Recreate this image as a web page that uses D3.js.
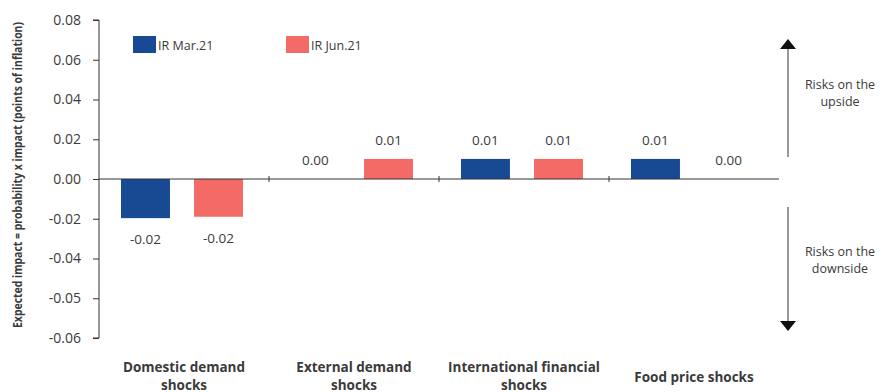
<!DOCTYPE html>
<html>
<head>
<meta charset="utf-8">
<script src="https://cdn.jsdelivr.net/npm/d3@7"></script>
<style>
  body { margin: 0; background: #fff; }
  svg text { font-family: "Open Sans", "Noto Sans", sans-serif; fill: #3a3a3a; }
</style>
</head>
<body>
<svg id="chart" width="887" height="392"></svg>
<script>
// data
const categories = ["Domestic demand shocks", "External demand shocks", "International financial shocks", "Food price shocks"];
const categoryLines = [["Domestic demand", "shocks"], ["External demand", "shocks"], ["International financial", "shocks"], ["Food price shocks"]];
const seriesNames = ["IR Mar.21", "IR Jun.21"];
const marValues = [-0.0197, 0.0, 0.0101, 0.0101];
const junValues = [-0.019, 0.0101, 0.0101, 0.0];
const valueLabels = [["-0.02", "0.00", "0.01", "0.01"], ["-0.02", "0.01", "0.01", "0.00"]];
const tickValues = [0.08, 0.06, 0.04, 0.02, 0, -0.02, -0.04, -0.06, -0.08];
const tickLabels = ["0.08", "0.06", "0.04", "0.02", "0.00", "-0.02", "-0.04", "-0.05", "-0.06"];
const colors = ["#174a93", "#f36a66"];

const svg = d3.select("#chart");
const plotLeft = 99, plotRight = 779, plotTop = 20, plotBottom = 338;

const y = d3.scaleLinear().domain([-0.08, 0.08]).range([plotBottom, plotTop]);
const x0 = d3.scaleBand().domain(categories).range([plotLeft, plotRight]).padding(0);
const x1 = d3.scaleBand().domain(seriesNames).range([22, 144]).paddingInner(0.33).paddingOuter(0);

// y axis
const yAxis = d3.axisLeft(y)
    .tickValues(tickValues)
    .tickSize(6)
    .tickPadding(12)
    .tickFormat((d, i) => tickLabels[i]);
const gy = svg.append("g")
    .attr("transform", "translate(" + plotLeft + ",0)")
    .call(yAxis);
gy.select(".domain").attr("stroke", "#333").attr("d", "M-6," + plotTop + "H0V" + plotBottom + "H-6");
gy.selectAll(".tick line").attr("stroke", "#333");
gy.selectAll(".tick text").style("font-size", "14px").attr("fill", "#3a3a3a")
    .style("font-family", "'Open Sans', sans-serif");

// y title (condensed in the original, so squeeze it)
svg.append("text")
    .attr("transform", "translate(22," + 175 + ") rotate(-90)")
    .attr("text-anchor", "middle")
    .attr("textLength", 306)
    .attr("lengthAdjust", "spacingAndGlyphs")
    .style("font-weight", "bold")
    .style("font-size", "12.5px")
    .attr("fill", "#222")
    .text("Expected impact = probability x impact (points of inflation)");

// bars
const data = categories.map((c, i) => ({ cat: c, vals: [marValues[i], junValues[i]] }));
const groups = svg.selectAll(".grp")
    .data(data)
    .enter().append("g")
    .attr("class", "grp")
    .attr("transform", d => "translate(" + x0(d.cat) + ",0)");

groups.selectAll("rect")
    .data(d => d.vals.map((v, s) => ({ s: s, v: v })))
    .enter().append("rect")
    .attr("x", d => x1(seriesNames[d.s]))
    .attr("width", x1.bandwidth())
    .attr("y", d => y(Math.max(0, d.v)))
    .attr("height", d => Math.abs(y(d.v) - y(0)))
    .attr("fill", d => colors[d.s]);

groups.each(function (d, ci) {
    d3.select(this).selectAll(".vl")
        .data(d.vals.map((v, s) => ({ s: s, v: v })))
        .enter().append("text")
        .attr("class", "vl")
        .attr("x", e => x1(seriesNames[e.s]) + x1.bandwidth() / 2)
        .attr("y", e => e.v < 0 ? y(e.v) + 26 : y(e.v) - 14)
        .attr("text-anchor", "middle")
        .style("font-size", "13.5px")
        .text(e => valueLabels[e.s][ci]);
});

// zero line with category ticks
svg.append("line")
    .attr("x1", plotLeft).attr("x2", plotRight)
    .attr("y1", y(0)).attr("y2", y(0))
    .attr("stroke", "#333");
svg.selectAll(".ctick")
    .data(categories.slice(1))
    .enter().append("line")
    .attr("x1", d => x0(d)).attr("x2", d => x0(d))
    .attr("y1", y(0) - 3).attr("y2", y(0) + 3)
    .attr("stroke", "#333");

// category labels
categoryLines.forEach((lines, i) => {
    const cx = x0(categories[i]) + x0.bandwidth() / 2;
    const t = svg.append("text")
        .attr("text-anchor", "middle")
        .style("font-size", "13.5px")
        .style("font-weight", "bold")
        .attr("fill", "#222");
    const y0 = lines.length === 1 ? 382 : 372;
    lines.forEach((ln, j) => {
        t.append("tspan").attr("x", cx).attr("y", y0 + j * 18).text(ln);
    });
});

// legend
const legend = svg.append("g");
[133, 286].forEach((lx, i) => {
    legend.append("rect").attr("x", lx).attr("y", 36).attr("width", 23).attr("height", 17).attr("fill", colors[i]);
    legend.append("text").attr("x", lx + 25).attr("y", 50).style("font-size", "12.5px").text(seriesNames[i]);
});

// risk arrows
const defs = svg.append("defs");
defs.append("marker")
    .attr("id", "arr")
    .attr("viewBox", "0 0 10 16")
    .attr("refX", 5).attr("refY", 8)
    .attr("markerWidth", 10).attr("markerHeight", 16)
    .attr("markerUnits", "userSpaceOnUse")
    .attr("orient", "auto-start-reverse")
    .append("path").attr("d", "M0,0L10,8L0,16Z").attr("fill", "#111");

const ax = 788;
svg.append("line").attr("x1", ax).attr("x2", ax).attr("y1", 157).attr("y2", 44)
    .attr("stroke", "#333").attr("marker-end", "url(#arr)");
svg.append("line").attr("x1", ax).attr("x2", ax).attr("y1", 207).attr("y2", 326)
    .attr("stroke", "#333").attr("marker-end", "url(#arr)");

[["Risks on the", "upside", 89], ["Risks on the", "downside", 256]].forEach(r => {
    const t = svg.append("text").attr("text-anchor", "middle").style("font-size", "12.5px");
    t.append("tspan").attr("x", 840).attr("y", r[2]).text(r[0]);
    t.append("tspan").attr("x", 840).attr("y", r[2] + 17).text(r[1]);
});
</script>
</body>
</html>
